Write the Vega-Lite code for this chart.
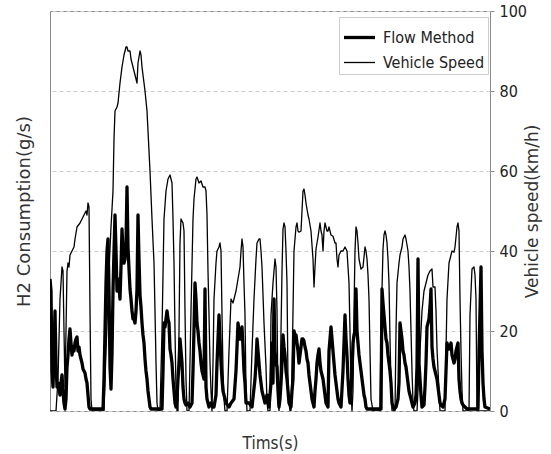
{
  "$schema": "https://vega.github.io/schema/vega-lite/v6.json",
  "autosize": "none",
  "width": 440,
  "height": 400,
  "padding": {"left": 50, "top": 11, "right": 61, "bottom": 43},
  "background": "white",
  "config": {
    "view": {"stroke": "#8a8a8a", "strokeWidth": 1},
    "axis": {"titleFontWeight": "normal", "titleColor": "#333", "labelColor": "#222"}
  },
  "datasets": {
    "speed": [
      {"t":0,"v":0},{"t":6,"v":0},{"t":8,"v":8},{"t":10,"v":28},{"t":12,"v":36},{"t":13,"v":35},{"t":14,"v":20},{"t":15,"v":6},{"t":16,"v":20},{"t":17,"v":35},{"t":18,"v":37},{"t":19,"v":36},{"t":20,"v":39},{"t":22,"v":40},{"t":24,"v":41},{"t":25,"v":43},{"t":27,"v":46},{"t":30,"v":47},{"t":32,"v":48},{"t":34,"v":49},{"t":36,"v":50},{"t":37,"v":49},{"t":38,"v":52},{"t":39,"v":51},{"t":40,"v":25},{"t":41,"v":3},{"t":42,"v":0},
      {"t":54,"v":0},{"t":56,"v":15},{"t":59,"v":35},{"t":61,"v":46},{"t":63,"v":55},{"t":64,"v":68},{"t":65,"v":75},{"t":67,"v":76},{"t":68,"v":77},{"t":70,"v":82},{"t":72,"v":86},{"t":74,"v":89},{"t":76,"v":91},{"t":77,"v":91},{"t":78,"v":90},{"t":80,"v":90},{"t":81,"v":88},{"t":83,"v":86},{"t":85,"v":84},{"t":87,"v":82},{"t":88,"v":87},{"t":90,"v":90},{"t":91,"v":89},{"t":92,"v":86},{"t":94,"v":82},{"t":95,"v":80},{"t":97,"v":75},{"t":98,"v":70},{"t":100,"v":60},{"t":102,"v":48},{"t":104,"v":37},{"t":105,"v":25},{"t":106,"v":12},{"t":107,"v":2},{"t":108,"v":0},
      {"t":110,"v":0},{"t":112,"v":20},{"t":114,"v":48},{"t":116,"v":55},{"t":118,"v":58},{"t":120,"v":59},{"t":121,"v":58},{"t":122,"v":57},{"t":123,"v":48},{"t":124,"v":37},{"t":125,"v":20},{"t":126,"v":5},{"t":127,"v":0},{"t":128,"v":0},{"t":129,"v":20},{"t":130,"v":42},{"t":131,"v":48},{"t":133,"v":47},{"t":134,"v":45},{"t":135,"v":25},{"t":136,"v":8},{"t":137,"v":0},
      {"t":139,"v":0},{"t":141,"v":25},{"t":143,"v":48},{"t":144,"v":53},{"t":146,"v":58},{"t":147,"v":58.5},{"t":149,"v":57},{"t":151,"v":57.5},{"t":153,"v":56},{"t":155,"v":56},{"t":156,"v":55},{"t":157,"v":49},{"t":158,"v":35},{"t":159,"v":24},{"t":160,"v":12},{"t":161,"v":5},{"t":162,"v":0},{"t":163,"v":12},{"t":164,"v":28},{"t":166,"v":37},{"t":167,"v":40},{"t":169,"v":41},{"t":170,"v":42},{"t":171,"v":40},{"t":172,"v":24},{"t":173,"v":10},{"t":174,"v":3},{"t":175,"v":0},
      {"t":177,"v":0},{"t":179,"v":15},{"t":181,"v":28},{"t":183,"v":27},{"t":185,"v":29},{"t":186,"v":30},{"t":188,"v":33},{"t":190,"v":36},{"t":191,"v":40},{"t":192,"v":43},{"t":193,"v":41},{"t":194,"v":32},{"t":195,"v":24},{"t":196,"v":5},{"t":197,"v":0},
      {"t":200,"v":0},{"t":202,"v":15},{"t":204,"v":28},{"t":206,"v":38},{"t":207,"v":42},{"t":209,"v":43},{"t":210,"v":43},{"t":211,"v":40},{"t":212,"v":36},{"t":214,"v":22},{"t":216,"v":11},{"t":217,"v":2},{"t":218,"v":0},
      {"t":220,"v":0},{"t":221,"v":24},{"t":223,"v":32},{"t":225,"v":38},{"t":226,"v":36},{"t":227,"v":25},{"t":228,"v":3},{"t":229,"v":0},{"t":230,"v":5},{"t":232,"v":35},{"t":233,"v":45.5},{"t":234,"v":47},{"t":235,"v":46},{"t":236,"v":40},{"t":237,"v":32},{"t":238,"v":7},{"t":239,"v":2},{"t":240,"v":0},
      {"t":241,"v":0},{"t":242,"v":10},{"t":244,"v":40},{"t":246,"v":46},{"t":247,"v":47},{"t":248,"v":45},{"t":249,"v":44.7},{"t":251,"v":45},{"t":252,"v":50},{"t":253,"v":55},{"t":254,"v":55.5},{"t":255,"v":54},{"t":256,"v":52},{"t":258,"v":49},{"t":259,"v":48},{"t":261,"v":45},{"t":263,"v":38},{"t":264,"v":31},{"t":265,"v":36},{"t":266,"v":40.5},{"t":268,"v":43.5},{"t":270,"v":47},{"t":271,"v":45},{"t":272,"v":44},{"t":273,"v":40},{"t":274,"v":45},{"t":275,"v":47},{"t":277,"v":45},{"t":278,"v":45},{"t":279,"v":46},{"t":281,"v":44},{"t":283,"v":43.7},{"t":285,"v":42},{"t":286,"v":42},{"t":287,"v":38},{"t":288,"v":36},{"t":289,"v":39},{"t":291,"v":40},{"t":293,"v":40},{"t":295,"v":41},{"t":297,"v":40},{"t":298,"v":36},{"t":299,"v":32},{"t":300,"v":20},{"t":301,"v":5},{"t":302,"v":0},
      {"t":303,"v":5},{"t":304,"v":25},{"t":305,"v":40},{"t":306,"v":46},{"t":307,"v":45},{"t":308,"v":42},{"t":309,"v":38},{"t":311,"v":35.5},{"t":313,"v":36},{"t":315,"v":41},{"t":316,"v":40},{"t":317,"v":38},{"t":318,"v":34},{"t":319,"v":28},{"t":320,"v":15},{"t":321,"v":3},{"t":323,"v":0},
      {"t":330,"v":0},{"t":331,"v":20},{"t":333,"v":40.5},{"t":334,"v":44},{"t":335,"v":45},{"t":336,"v":44},{"t":337,"v":42},{"t":338,"v":38},{"t":339,"v":32},{"t":340,"v":18},{"t":341,"v":7},{"t":342,"v":0},
      {"t":345,"v":0},{"t":346,"v":20},{"t":347,"v":32},{"t":349,"v":37},{"t":350,"v":39},{"t":352,"v":41},{"t":353,"v":43},{"t":355,"v":44},{"t":356,"v":43},{"t":358,"v":40},{"t":359,"v":36},{"t":360,"v":30},{"t":361,"v":20},{"t":362,"v":10},{"t":363,"v":2},{"t":364,"v":0},
      {"t":367,"v":0},{"t":370,"v":15},{"t":372,"v":25},{"t":374,"v":30},{"t":376,"v":32},{"t":378,"v":34},{"t":380,"v":35},{"t":382,"v":35.5},{"t":383,"v":31},{"t":385,"v":31},{"t":386,"v":25},{"t":387,"v":15.5},{"t":389,"v":5},{"t":390,"v":0},
      {"t":395,"v":0},{"t":396,"v":15},{"t":397,"v":28},{"t":399,"v":37},{"t":401,"v":39},{"t":402,"v":40},{"t":404,"v":39.7},{"t":405,"v":41},{"t":407,"v":46},{"t":408,"v":47},{"t":409,"v":45},{"t":410,"v":28},{"t":411,"v":15},{"t":412,"v":5},{"t":413,"v":0},
      {"t":419,"v":0},{"t":420,"v":24},{"t":422,"v":35.5},{"t":424,"v":36},{"t":425,"v":34},{"t":426,"v":28},{"t":427,"v":0},{"t":440,"v":0}
    ],
    "flow": [
      {"t":0,"v":33},{"t":1,"v":30},{"t":2,"v":10},{"t":3,"v":6},{"t":4,"v":15},{"t":5,"v":25},{"t":6,"v":12},{"t":7,"v":6},{"t":8,"v":7},{"t":9,"v":6},{"t":10,"v":4},{"t":11,"v":7},{"t":12,"v":9},{"t":13,"v":5},{"t":14,"v":2},{"t":15,"v":0.5},{"t":16,"v":3},{"t":17,"v":11},{"t":18,"v":14},{"t":19,"v":18},{"t":20,"v":20.5},{"t":21,"v":17},{"t":22,"v":14},{"t":23,"v":16},{"t":24,"v":15},{"t":25,"v":17},{"t":26,"v":18},{"t":27,"v":18.5},{"t":28,"v":15},{"t":29,"v":16},{"t":30,"v":14},{"t":31,"v":13},{"t":32,"v":12},{"t":33,"v":10.5},{"t":34,"v":10},{"t":35,"v":9.5},{"t":36,"v":8},{"t":37,"v":7},{"t":38,"v":4},{"t":39,"v":1},{"t":40,"v":0.5},
      {"t":53,"v":0.5},{"t":54,"v":8},{"t":55,"v":20},{"t":56,"v":32},{"t":57,"v":40},{"t":58,"v":43},{"t":59,"v":30},{"t":60,"v":11},{"t":61,"v":5.5},{"t":62,"v":14},{"t":63,"v":30},{"t":64,"v":40},{"t":65,"v":49},{"t":66,"v":40},{"t":67,"v":30},{"t":68,"v":33},{"t":69,"v":31},{"t":70,"v":28},{"t":71,"v":36},{"t":72,"v":45.5},{"t":73,"v":40},{"t":74,"v":37},{"t":75,"v":38},{"t":76,"v":42},{"t":77,"v":56},{"t":78,"v":41},{"t":79,"v":35.5},{"t":80,"v":30.5},{"t":81,"v":28},{"t":82,"v":25},{"t":83,"v":23},{"t":84,"v":23},{"t":85,"v":22},{"t":86,"v":25},{"t":87,"v":30.5},{"t":88,"v":49},{"t":89,"v":38},{"t":90,"v":29},{"t":91,"v":26},{"t":92,"v":22},{"t":93,"v":19},{"t":94,"v":17},{"t":95,"v":13},{"t":96,"v":10},{"t":97,"v":8},{"t":98,"v":5},{"t":99,"v":3},{"t":100,"v":1},{"t":101,"v":0.5},
      {"t":112,"v":0.5},{"t":113,"v":10},{"t":114,"v":22},{"t":115,"v":21},{"t":116,"v":23},{"t":117,"v":25},{"t":118,"v":23},{"t":119,"v":22},{"t":120,"v":15.5},{"t":121,"v":14},{"t":122,"v":12},{"t":123,"v":8},{"t":124,"v":5},{"t":125,"v":2},{"t":126,"v":1},{"t":127,"v":3},{"t":128,"v":8},{"t":129,"v":12},{"t":130,"v":18},{"t":131,"v":15},{"t":132,"v":12},{"t":133,"v":6},{"t":134,"v":3},{"t":135,"v":2},{"t":136,"v":1.5},{"t":138,"v":2},{"t":140,"v":1},{"t":142,"v":2},{"t":143,"v":10},{"t":144,"v":20.5},{"t":145,"v":32},{"t":146,"v":28},{"t":147,"v":22},{"t":148,"v":20},{"t":149,"v":17},{"t":150,"v":15},{"t":151,"v":12},{"t":152,"v":10},{"t":153,"v":9},{"t":154,"v":8},{"t":155,"v":30.5},{"t":156,"v":6},{"t":157,"v":3},{"t":158,"v":2},{"t":159,"v":1},{"t":161,"v":2},{"t":163,"v":1},{"t":164,"v":1},{"t":166,"v":4},{"t":167,"v":12},{"t":168,"v":18},{"t":169,"v":24},{"t":170,"v":18},{"t":171,"v":12},{"t":172,"v":8},{"t":173,"v":5},{"t":174,"v":4},{"t":176,"v":2},{"t":179,"v":1},{"t":181,"v":2},{"t":184,"v":3},{"t":186,"v":10},{"t":187,"v":16},{"t":188,"v":22},{"t":189,"v":20},{"t":190,"v":18},{"t":191,"v":19},{"t":192,"v":21},{"t":193,"v":16},{"t":194,"v":10},{"t":195,"v":7},{"t":196,"v":2},{"t":199,"v":2},{"t":202,"v":1},{"t":205,"v":8},{"t":206,"v":12},{"t":207,"v":18},{"t":208,"v":15},{"t":209,"v":12},{"t":210,"v":9},{"t":211,"v":7},{"t":212,"v":5},{"t":214,"v":3},{"t":215,"v":2},{"t":217,"v":4},{"t":219,"v":1},
      {"t":221,"v":7},{"t":222,"v":17},{"t":223,"v":7},{"t":224,"v":28},{"t":225,"v":15},{"t":226,"v":12},{"t":227,"v":11},{"t":228,"v":5},{"t":229,"v":1},{"t":230,"v":3},{"t":231,"v":7},{"t":232,"v":12},{"t":233,"v":19},{"t":234,"v":16},{"t":235,"v":14},{"t":236,"v":10},{"t":237,"v":8},{"t":238,"v":5},{"t":239,"v":2},{"t":241,"v":1},{"t":242,"v":5},{"t":243,"v":8},{"t":244,"v":20},{"t":245,"v":19},{"t":246,"v":19},{"t":247,"v":17},{"t":248,"v":15},{"t":249,"v":12},{"t":250,"v":14},{"t":251,"v":16},{"t":252,"v":18},{"t":253,"v":18},{"t":254,"v":17.5},{"t":255,"v":16},{"t":256,"v":15},{"t":257,"v":13},{"t":258,"v":12},{"t":259,"v":9},{"t":260,"v":7},{"t":261,"v":5},{"t":262,"v":3},{"t":263,"v":2},{"t":264,"v":1},{"t":265,"v":5},{"t":266,"v":8},{"t":267,"v":12},{"t":268,"v":14},{"t":269,"v":15.5},{"t":270,"v":12},{"t":271,"v":10},{"t":272,"v":9},{"t":273,"v":8},{"t":274,"v":6},{"t":275,"v":4},{"t":276,"v":2},{"t":277,"v":1.5},{"t":278,"v":1},{"t":279,"v":15},{"t":280,"v":18},{"t":281,"v":21},{"t":282,"v":18},{"t":283,"v":15},{"t":284,"v":12},{"t":285,"v":9},{"t":286,"v":7},{"t":287,"v":5},{"t":288,"v":3},{"t":289,"v":2},{"t":291,"v":1},
      {"t":293,"v":10},{"t":294,"v":17},{"t":295,"v":24},{"t":296,"v":18},{"t":297,"v":14},{"t":298,"v":8},{"t":299,"v":4},{"t":300,"v":2},{"t":301,"v":5},{"t":302,"v":10},{"t":303,"v":17},{"t":304,"v":19},{"t":305,"v":20},{"t":306,"v":30.5},{"t":307,"v":20},{"t":308,"v":17},{"t":309,"v":14},{"t":310,"v":12},{"t":311,"v":10},{"t":312,"v":8},{"t":313,"v":6},{"t":314,"v":4},{"t":315,"v":3},{"t":316,"v":1},{"t":317,"v":0.5},
      {"t":331,"v":0.5},{"t":332,"v":30.5},{"t":333,"v":27},{"t":334,"v":24},{"t":335,"v":21},{"t":336,"v":18},{"t":337,"v":17},{"t":338,"v":14},{"t":339,"v":12},{"t":340,"v":10},{"t":341,"v":7},{"t":342,"v":2},{"t":343,"v":1},{"t":344,"v":0.5},{"t":346,"v":1},{"t":348,"v":3},{"t":349,"v":7},{"t":350,"v":22},{"t":351,"v":20},{"t":352,"v":18},{"t":353,"v":15},{"t":354,"v":14},{"t":355,"v":12},{"t":356,"v":11},{"t":357,"v":9},{"t":358,"v":7},{"t":359,"v":5},{"t":360,"v":4},{"t":361,"v":3},{"t":362,"v":2},{"t":363,"v":1},{"t":365,"v":2},{"t":366,"v":4},{"t":367,"v":11},{"t":368,"v":38},{"t":369,"v":12},{"t":370,"v":8},{"t":371,"v":4},{"t":372,"v":1},{"t":374,"v":1.5},{"t":375,"v":6},{"t":376,"v":12},{"t":377,"v":21},{"t":378,"v":22},{"t":379,"v":23},{"t":380,"v":26},{"t":381,"v":30.5},{"t":382,"v":16},{"t":383,"v":13},{"t":384,"v":11},{"t":385,"v":10},{"t":386,"v":9},{"t":387,"v":8},{"t":388,"v":6},{"t":389,"v":4},{"t":390,"v":2},{"t":391,"v":1.5},{"t":393,"v":1},{"t":395,"v":3},{"t":396,"v":10},{"t":397,"v":17},{"t":398,"v":16},{"t":399,"v":15.5},{"t":400,"v":16},{"t":401,"v":17},{"t":402,"v":14},{"t":403,"v":13},{"t":404,"v":12},{"t":405,"v":13},{"t":406,"v":15},{"t":407,"v":16},{"t":408,"v":17},{"t":409,"v":8},{"t":410,"v":5},{"t":411,"v":3},{"t":412,"v":2},{"t":413,"v":1.5},{"t":415,"v":1},{"t":417,"v":0.5},
      {"t":428,"v":0.5},{"t":429,"v":15},{"t":430,"v":25},{"t":431,"v":36},{"t":432,"v":15},{"t":433,"v":7},{"t":434,"v":3},{"t":435,"v":1},{"t":440,"v":0.5}
    ]
  },
  "layer": [
    {
      "data": {"name": "flow"},
      "transform": [{"calculate": "'Flow Method'", "as": "series"}],
      "mark": {"type": "line", "color": "black", "strokeJoin": "round", "clip": true},
      "encoding": {
        "x": {"field": "t", "type": "quantitative", "scale": {"domain": [0, 440], "nice": false},
          "axis": {"title": "Tims(s)", "labels": false, "ticks": false, "domain": false, "grid": false,
            "titleFont": "DejaVu Sans Condensed, Liberation Sans, sans-serif", "titleFontSize": 17, "titlePadding": 24}},
        "y": {"field": "v", "type": "quantitative", "scale": {"domain": [0, 100], "nice": false},
          "axis": {"orient": "left", "title": "H2 Consumption(g/s)", "labels": false, "ticks": false, "domain": false, "grid": false,
            "titleFont": "DejaVu Sans", "titleFontSize": 18, "titlePadding": 17}},
        "strokeWidth": {"field": "series", "type": "ordinal",
          "scale": {"domain": ["Flow Method", "Vehicle Speed"], "range": [3.3, 1.3]},
          "legend": {"orient": "none", "legendX": 289, "legendY": 6, "title": null,
            "symbolType": "stroke", "symbolSize": 961, "symbolStrokeColor": "black",
            "labelFont": "DejaVu Sans Condensed, Liberation Sans, sans-serif", "labelFontSize": 16, "labelColor": "#222", "labelOffset": 6,
            "fillColor": "white", "strokeColor": "#cccccc", "padding": 3, "rowPadding": -8}}
      }
    },
    {
      "data": {"name": "speed"},
      "transform": [{"calculate": "'Vehicle Speed'", "as": "series"}],
      "mark": {"type": "line", "color": "black", "strokeJoin": "round", "clip": true},
      "encoding": {
        "x": {"field": "t", "type": "quantitative"},
        "y": {"field": "v", "type": "quantitative", "scale": {"domain": [0, 100], "nice": false},
          "axis": {"orient": "right", "title": "Vehicle speed(km/h)", "values": [0, 20, 40, 60, 80, 100],
            "grid": true, "gridColor": "#cccccc", "gridDash": [4, 3], "domain": false,
            "ticks": true, "tickSize": 4, "tickColor": "#8a8a8a",
            "labelFont": "DejaVu Sans Condensed, Liberation Sans, sans-serif", "labelFontSize": 16, "labelPadding": 5,
            "titleFont": "DejaVu Sans", "titleFontSize": 17, "titleAngle": 270, "titlePadding": 15}},
        "strokeWidth": {"field": "series", "type": "ordinal"}
      }
    }
  ],
  "resolve": {"scale": {"y": "independent"}}
}
